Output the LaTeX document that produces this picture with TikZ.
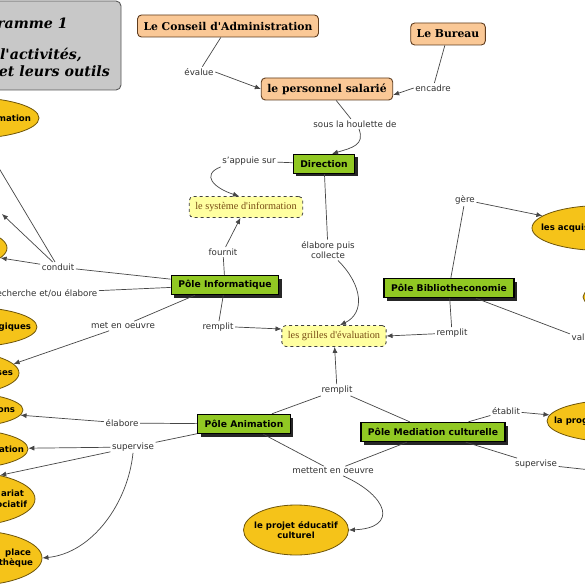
\documentclass[tikz,border=0pt]{standalone}
\usepackage{fontspec}
\setmainfont{DejaVu Sans}
\newfontfamily\serifbox{DejaVu Serif}
\newfontfamily\docfont{Liberation Serif}
\usetikzlibrary{shapes.geometric, arrows.meta, shadows, positioning}

\definecolor{peach}{RGB}{250,200,150}
\definecolor{brownline}{RGB}{95,60,30}
\definecolor{limegreen}{RGB}{145,200,35}
\definecolor{docyellow}{RGB}{255,255,160}
\definecolor{doctext}{RGB}{120,75,20}
\definecolor{gold}{RGB}{245,195,25}
\definecolor{goldline}{RGB}{110,85,10}
\definecolor{titlegray}{RGB}{200,200,200}
\definecolor{linegray}{RGB}{70,70,70}
\definecolor{labeltext}{RGB}{50,50,50}

\tikzset{
  basebox/.style={rectangle,align=center,inner xsep=6pt,inner ysep=2pt},
  titlebox/.style={basebox,rounded corners=5pt,fill=titlegray,draw=black!65,line width=0.9pt},
  titletext/.style={font=\serifbox\bfseries\itshape\fontsize{14.2}{17}\selectfont,inner sep=0pt},
  orangebox/.style={basebox,rounded corners=4pt,fill=peach,draw=brownline,line width=0.9pt,
    font=\serifbox\bfseries\fontsize{10.8}{12}\selectfont,minimum height=22pt},
  polebox/.style={basebox,fill=limegreen,draw=black,line width=1.4pt,inner xsep=7pt,
    font=\bfseries\fontsize{9.2}{10}\selectfont,minimum height=19pt,
    general shadow={fill=black!85,shadow xshift=3pt,shadow yshift=-3pt}},
  docbox/.style={basebox,rounded corners=4pt,fill=docyellow,draw=black!75,dashed,line width=0.8pt,
    text=doctext,font=\docfont\fontsize{10.3}{12}\selectfont,minimum height=21pt},
  ellbox/.style={ellipse,fill=gold,draw=goldline,line width=0.8pt,inner sep=0pt,
    font=\bfseries\fontsize{8.6}{10.5}\selectfont,align=center},
  ellnote/.style={font=\bfseries\fontsize{8.6}{10.5}\selectfont,align=right,inner sep=0pt},
  lbl/.style={font=\fontsize{8.7}{10.5}\selectfont,text=labeltext,align=center,inner sep=1.5pt},
  ln/.style={draw=linegray,line width=0.7pt},
  arr/.style={ln,-{Latex[length=6pt,width=5pt]}}
}

\begin{document}
\begin{tikzpicture}[x=1pt,y=-1pt]
  \useasboundingbox (0,0) rectangle (585,585);
  \fill[white] (0,0) rectangle (585,585);
  \clip (0,0) rectangle (585,585);

  %% Title
  \node[titlebox,minimum width=151pt,minimum height=89pt] (title) at (45.5,45.5) {};
  \node[titletext,anchor=east] (title1) at (68,23) {ramme 1};
  \node[titletext,anchor=east] (title2) at (82,55) {l'activités,};
  \node[titletext,anchor=east] (title3) at (110,71) {et leurs outils};

  %% Top boxes
  \node[orangebox] (conseil) at (228,26) {Le Conseil d'Administration};
  \node[orangebox] (bureau) at (448,34) {Le Bureau};
  \node[orangebox] (personnel) at (327,89) {le personnel salarié};

  %% Poles
  \node[polebox] (direction) at (324,164) {Direction};
  \node[polebox] (poleinfo) at (225,285) {Pôle Informatique};
  \node[polebox] (polebib) at (449,288) {Pôle Bibliotheconomie};
  \node[polebox] (poleanim) at (244,424) {Pôle Animation};
  \node[polebox] (polemed) at (433,432) {Pôle Mediation culturelle};

  %% Tools
  \node[docbox] (sysinfo) at (246,207) {le système d'information};
  \node[docbox] (grilles) at (334,336) {les grilles d'évaluation};

  %% Missions (ellipses, mostly cut by the frame)
  \node[ellbox,minimum width=140pt,minimum height=41pt,
        label={[ellnote,xshift=62pt]center:\llap{mation}}] (ellA) at (-31,118) {};
  \node[ellbox,minimum width=140pt,minimum height=46pt] (ellB) at (-63,248) {};
  \node[ellbox,minimum width=140pt,minimum height=40pt,
        label={[ellnote,xshift=64pt]center:\llap{giques}}] (ellC) at (-33,327) {};
  \node[ellbox,minimum width=140pt,minimum height=45pt,
        label={[ellnote,xshift=64pt]center:\llap{ses}}] (ellD) at (-51,373) {};
  \node[ellbox,minimum width=140pt,minimum height=36pt,
        label={[ellnote,xshift=62pt]center:\llap{ons}}] (ellE) at (-47,410) {};
  \node[ellbox,minimum width=140pt,minimum height=40pt,
        label={[ellnote,xshift=66pt]center:\llap{ation}}] (ellF) at (-42,449) {};
  \node[ellbox,minimum width=140pt,minimum height=54pt,
        label={[ellnote,xshift=62pt]center:\llap{ariat\hspace{3pt}}\\\llap{ociatif}}] (ellG) at (-35,499) {};
  \node[ellbox,minimum width=140pt,minimum height=55pt,
        label={[ellnote,xshift=61pt]center:\llap{place\hspace{2pt}}\\\llap{thèque}}] (ellH) at (-28,558) {};
  \node[ellbox,minimum width=140pt,minimum height=45pt,
        label={[ellnote,xshift=-61pt]center:\rlap{les acquis}}] (acquis) at (602,228) {};
  \node[ellbox,minimum width=140pt,minimum height=36pt] (ellR) at (653,297) {};
  \node[ellbox,minimum width=140pt,minimum height=42pt,
        label={[ellnote,xshift=-63pt]center:\rlap{la prog}}] (prog) at (617,421) {};
  \node[ellbox,minimum width=105pt,minimum height=50pt,inner xsep=-11pt]
      (projet) at (296,530) {le projet éducatif\\culturel};

  %% Link labels
  \node[lbl] (evalue) at (199,72) {évalue};
  \node[lbl] (encadre) at (433,88) {encadre};
  \node[lbl] (houlette) at (355,124) {sous la houlette de};
  \node[lbl] (sappuie) at (249,161) {s'appuie sur};
  \node[lbl] (elabpuis) at (328,250) {élabore puis\\collecte};
  \node[lbl] (fournit) at (223,252) {fournit};
  \node[lbl] (conduit) at (58,267) {conduit};
  \node[lbl,anchor=east] (recherche) at (99,293) {recherche et/ou élabore};
  \node[lbl] (metoeuvre) at (123,326) {met en oeuvre};
  \node[lbl] (remplitinfo) at (218,327) {remplit};
  \node[lbl] (gere) at (465,200) {gère};
  \node[lbl] (remplitbib) at (452,333) {remplit};
  \node[lbl,anchor=west] (valide) at (570,337) {val};
  \node[lbl] (remplitmid) at (337,390) {remplit};
  \node[lbl] (elabanim) at (122,423) {élabore};
  \node[lbl] (supanim) at (133,447) {supervise};
  \node[lbl] (mettent) at (333,471) {mettent en oeuvre};
  \node[lbl] (etablit) at (506,411) {établit};
  \node[lbl] (supmed) at (536,464) {supervise};
  \coordinate (outB) at (2,214);
  \coordinate (outmed) at (600,471);

  %% Connectors
  \draw[ln] (conseil) -- (evalue);
  \draw[arr] (evalue.east) -- (personnel.west);
  \draw[ln] (bureau) -- (encadre);
  \draw[arr] (encadre.west) -- ([yshift=-6pt]personnel.east);
  \draw[ln] (personnel) -- (houlette);
  \draw[arr] ([xshift=4pt]houlette.south) .. controls +(6,16) and +(20,-6) .. ([xshift=8pt]direction.north);
  \draw[ln] (direction) -- (sappuie);
  \draw[arr] (sappuie.south west) .. controls +(-20,8) and +(-25,-8) .. ([xshift=-7pt]sysinfo.north);
  \draw[ln] (direction) -- (elabpuis);
  \draw[arr] ([xshift=10pt]elabpuis.south) .. controls +(25,25) and +(25,-12) .. ([xshift=6pt]grilles.north);

  \draw[ln] (poleinfo) -- (fournit);
  \draw[arr] (fournit) -- (sysinfo);
  \draw[ln] (poleinfo) -- (conduit);
  \draw[arr] (conduit) -- (ellA);
  \draw[arr] (conduit) -- (outB);
  \draw[arr] (conduit) -- (ellB);
  \draw[ln] (poleinfo) -- (recherche);
  \draw[ln] ([xshift=-30pt]poleinfo.south) -- (metoeuvre);
  \draw[arr] (metoeuvre) -- (ellD.8);
  \draw[ln] (poleinfo) -- (remplitinfo);
  \draw[arr] (remplitinfo.east) -- ([yshift=7pt]grilles.west);

  \draw[ln] (polebib) -- (gere);
  \draw[arr] (gere) -- (acquis);
  \draw[ln] (polebib) -- (valide);
  \draw[ln] (polebib) -- (remplitbib);
  \draw[arr] (remplitbib) -- (grilles.east);

  \draw[ln] (poleanim) -- (elabanim);
  \draw[arr] (elabanim) -- (ellE);
  \draw[ln] (poleanim) -- (supanim);
  \draw[arr] (supanim) -- (ellF);
  \draw[arr] (supanim) -- (ellG.34);
  \draw[arr] (supanim.south) .. controls +(-5,50) and +(50,-5) .. (ellH.east);
  \draw[ln] (poleanim) -- (remplitmid);
  \draw[ln] (polemed) -- (remplitmid);
  \draw[arr] (remplitmid) -- (grilles);
  \draw[ln] (poleanim) -- (mettent);
  \draw[ln] (polemed) -- (mettent);
  \draw[arr] ([xshift=10pt]mettent.south) .. controls +(45,20) and +(50,-2) .. (projet.east);
  \draw[ln] (polemed) -- (etablit);
  \draw[arr] (etablit) -- (prog);
  \draw[ln] (polemed) -- (supmed);
  \draw[arr] (supmed) -- (outmed);
\end{tikzpicture}
\end{document}
